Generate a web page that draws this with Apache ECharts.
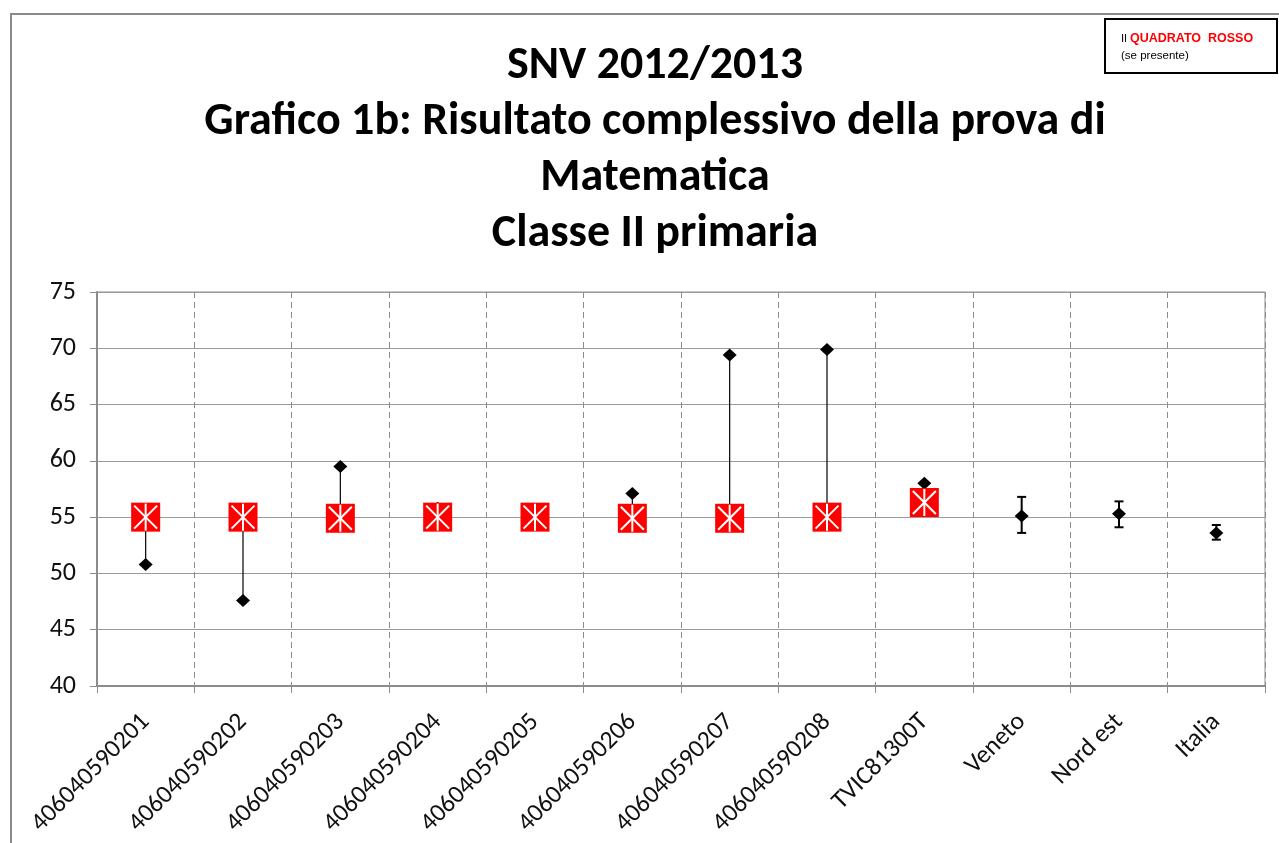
<!DOCTYPE html>
<html>
<head>
<meta charset="utf-8">
<script src="https://cdn.jsdelivr.net/npm/echarts@6/dist/echarts.min.js"></script>
<style>
html,body{margin:0;padding:0;background:#fff;}
#chart{width:1279px;height:843px;}
</style>
</head>
<body>
<div id="chart"></div>
<script>
var categories = ['406040590201','406040590202','406040590203','406040590204','406040590205','406040590206','406040590207','406040590208','TVIC81300T','Veneto','Nord est','Italia'];
var schoolValues = [55.0, 55.0, 54.9, 55.0, 55.0, 54.9, 54.9, 55.0, 56.3, null, null, null];
var meanValues = [50.8, 47.6, 59.5, 55.8, 55.0, 57.1, 69.4, 69.9, 58.0, 55.1, 55.3, 53.6];
var errLow = [null, null, null, null, null, null, null, null, null, 53.6, 54.1, 53.0];
var errHigh = [null, null, null, null, null, null, null, null, null, 56.8, 56.4, 54.3];
var yTicks = [40, 45, 50, 55, 60, 65, 70, 75];

var titleFont = 'Carlito, Lato, sans-serif';

var connData = [];
var sqData = [];
var errData = [];
var diaData = [];
categories.forEach(function (c, i) {
  if (schoolValues[i] != null && meanValues[i] != null) connData.push([i, schoolValues[i], meanValues[i]]);
  if (schoolValues[i] != null) sqData.push([i, schoolValues[i]]);
  if (errLow[i] != null) errData.push([i, errLow[i], errHigh[i]]);
  diaData.push([i, meanValues[i]]);
});

var chart = echarts.init(document.getElementById('chart'));
chart.setOption({
  animation: false,
  backgroundColor: '#fff',
  title: {
    text: 'SNV 2012/2013\nGrafico 1b: Risultato complessivo della prova di\nMatematica\nClasse II primaria',
    left: 650, textAlign: 'center', top: 33,
    textStyle: { fontFamily: titleFont, fontWeight: 'bold', fontSize: 46, lineHeight: 56, color: '#000' }
  },
  graphic: [
    { type: 'polyline', shape: { points: [[11, 843], [11, 14], [1279, 14]] }, style: { stroke: '#8a8a8a', lineWidth: 2, fill: null }, z: 1 },
    { type: 'rect', shape: { x: 1105, y: 19, width: 172, height: 54 }, style: { fill: '#fff', stroke: '#000', lineWidth: 2 }, z: 10 },
    { type: 'text', x: 1121, y: 30, z: 11, style: {
        text: '{a|Il }{b|QUADRATO  ROSSO}\n{a|(se presente)}',
        rich: {
          a: { fontFamily: 'Liberation Sans, Arial, sans-serif', fontSize: 11.5, fill: '#000', lineHeight: 17 },
          b: { fontFamily: 'Liberation Sans, Arial, sans-serif', fontSize: 12.5, fontWeight: 'bold', fill: '#ff0000', lineHeight: 17 }
        }
      } }
  ],
  grid: { left: 97, right: 14, top: 292, bottom: 157, show: true, borderColor: '#8c8c8c', borderWidth: 1 },
  xAxis: {
    type: 'category', data: categories, boundaryGap: true,
    axisLine: { lineStyle: { color: '#8c8c8c', width: 2 } },
    axisTick: { show: true, interval: 0, length: 7, lineStyle: { color: '#8c8c8c', width: 1 } },
    axisLabel: { interval: 0, rotate: 45, fontFamily: titleFont, fontSize: 25.5, color: '#111', margin: 32 },
    splitLine: { show: true, interval: 0, lineStyle: { color: '#8c8c8c', type: [6, 4], width: 1 } }
  },
  yAxis: {
    type: 'value', min: yTicks[0], max: yTicks[yTicks.length - 1], interval: 5,
    axisLine: { show: true, lineStyle: { color: '#8c8c8c', width: 2 } },
    axisTick: { show: true, length: 7, lineStyle: { color: '#8c8c8c' } },
    axisLabel: { fontFamily: titleFont, fontSize: 26, color: '#111', margin: 21 },
    splitLine: { show: true, lineStyle: { color: '#9a9a9a', width: 1 } }
  },
  series: [
    {
      type: 'custom', name: 'conn', data: connData, z: 2,
      renderItem: function (params, api) {
        var p1 = api.coord([api.value(0), api.value(1)]);
        var p2 = api.coord([api.value(0), api.value(2)]);
        return { type: 'line', shape: { x1: p1[0], y1: p1[1], x2: p2[0], y2: p2[1] }, style: { stroke: '#000', lineWidth: 1.2 } };
      }
    },
    {
      type: 'custom', name: 'err', data: errData, z: 3,
      renderItem: function (params, api) {
        var lo = api.coord([api.value(0), api.value(1)]);
        var hi = api.coord([api.value(0), api.value(2)]);
        var w = 4.5;
        var st = { stroke: '#000', lineWidth: 2 };
        return { type: 'group', children: [
          { type: 'line', shape: { x1: lo[0], y1: lo[1], x2: hi[0], y2: hi[1] }, style: st },
          { type: 'line', shape: { x1: lo[0] - w, y1: lo[1], x2: lo[0] + w, y2: lo[1] }, style: st },
          { type: 'line', shape: { x1: hi[0] - w, y1: hi[1], x2: hi[0] + w, y2: hi[1] }, style: st }
        ] };
      }
    },
    {
      type: 'scatter', name: 'media', data: diaData, symbol: 'diamond', symbolSize: [14, 13], z: 4,
      itemStyle: { color: '#000', opacity: 1 }
    },
    {
      type: 'custom', name: 'quadrato', data: sqData, z: 5,
      renderItem: function (params, api) {
        var c = api.coord([api.value(0), api.value(1)]);
        var h = 14.5, i = 3;
        var st = { stroke: '#fff', lineWidth: 2 };
        return { type: 'group', children: [
          { type: 'rect', shape: { x: c[0] - h, y: c[1] - h, width: 2 * h, height: 2 * h }, style: { fill: '#ff0000' } },
          { type: 'line', shape: { x1: c[0] - h + i, y1: c[1] - h + i, x2: c[0] + h - i, y2: c[1] + h - i }, style: st },
          { type: 'line', shape: { x1: c[0] - h + i, y1: c[1] + h - i, x2: c[0] + h - i, y2: c[1] - h + i }, style: st },
          { type: 'line', shape: { x1: c[0], y1: c[1] - h + 1, x2: c[0], y2: c[1] + h - 1 }, style: st }
        ] };
      }
    }
  ]
});
</script>
</body>
</html>
